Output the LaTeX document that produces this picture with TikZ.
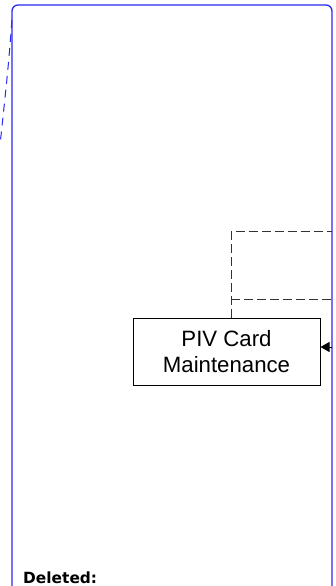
\documentclass[tikz,border=0pt]{standalone}
\usepackage{fontspec}
\setmainfont{Liberation Sans}
\newfontfamily\verdanafont{DejaVu Sans}
\usetikzlibrary{arrows.meta}
\definecolor{laneblue}{RGB}{40,40,240}
\definecolor{dashgray}{RGB}{50,50,50}
\begin{document}
\begin{tikzpicture}[x=1pt,y=-1pt,
  lane/.style={draw=laneblue, line width=1.3pt, rounded corners=6pt},
  flowbox/.style={draw, line width=1pt, minimum width=187pt, minimum height=67pt, align=center, font=\fontsize{22.2}{25.7}\selectfont},
  linkline/.style={draw=dashgray, dash pattern=on 9pt off 4pt, line width=1pt}]
\useasboundingbox (0,0) rectangle (335,586);

% ===== Lane border =====
\draw[lane] (12,592) -- (12,5) -- (332,5) -- (332,592);
\draw[laneblue, line width=1pt, dash pattern=on 8pt off 6pt] (12,20) .. controls (8,70) .. (0,145);

% ===== Process box =====
\node[flowbox] (maint) at (226.5,351.5) {PIV Card\\Maintenance};
\coordinate (edge) at (332,347);
\coordinate (upper) at (231,231);
\coordinate (lower) at (231,299);

\draw[linkline] (maint.north -| upper) -- (upper) -- (upper -| edge);
\draw[linkline] (lower) -- (lower -| edge);
\draw[-{Triangle[length=9pt,width=10pt]}, line width=1pt] (edge) -- (maint.east |- edge);

% ===== Note =====
\node[anchor=base west, inner sep=0pt, font=\verdanafont\bfseries\fontsize{15.4}{18}\selectfont] (note) at (23,583) {Deleted:};

\end{tikzpicture}
\end{document}
